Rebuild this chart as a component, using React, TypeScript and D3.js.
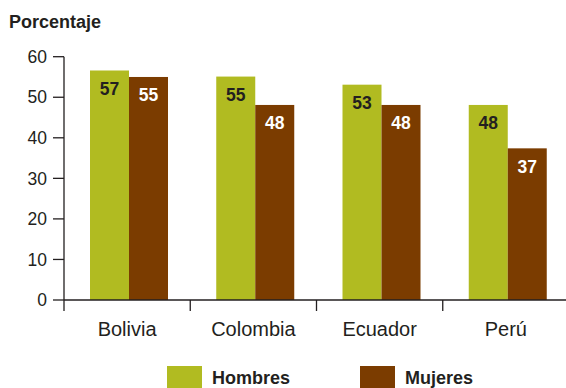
import React from "react";
import * as d3 from "d3";

const categories = ["Bolivia", "Colombia", "Ecuador", "Perú"];
const seriesNames = ["Hombres", "Mujeres"];
const hombres = [56.6, 55.1, 53.1, 48.1];
const mujeres = [55.0, 48.1, 48.1, 37.4];
const yTicks = [0, 10, 20, 30, 40, 50, 60];
const yTitle = "Porcentaje";

const colors = ["#b1bb21", "#7b3c00"];
const labelColors = ["#231f20", "#ffffff"];
const ink = "#231f20";
const font = "'Liberation Sans', Arial, Helvetica, sans-serif";

export default function App() {
  const W = 566, H = 388;
  const x0 = d3.scaleBand<string>().domain(categories).range([64, 569]);
  const x1 = d3.scaleBand<string>().domain(seriesNames).range([26, 104]);
  const y = d3.scaleLinear().domain([0, 60]).range([300, 56.7]);
  const values = [hombres, mujeres];

  return (
    <svg width={W} height={H} style={{ position: "absolute", left: 0, top: 0 }} fontFamily={font}>
      <rect width={W} height={H} fill="#fff" />
      <text x={9} y={28} fontSize={18} fontWeight="bold" fill={ink}>{yTitle}</text>

      {categories.map((c, ci) =>
        seriesNames.map((s, si) => {
          const v = values[si][ci];
          const bx = (x0(c) as number) + (x1(s) as number);
          const bw = x1.bandwidth();
          return (
            <g key={c + s}>
              <rect x={bx} y={y(v)} width={bw} height={y(0) - y(v)} fill={colors[si]} />
              <text x={bx + bw / 2} y={y(v) + 24.5} textAnchor="middle" fontSize={17.5} fontWeight="bold" fill={labelColors[si]}>
                {Math.round(v)}
              </text>
            </g>
          );
        })
      )}

      {/* y axis */}
      <line x1={64} x2={64} y1={y(60)} y2={y(0)} stroke={ink} strokeWidth={1.3} />
      {yTicks.map((t) => (
        <g key={t}>
          <line x1={53} x2={64} y1={y(t)} y2={y(t)} stroke={ink} strokeWidth={1.3} />
          <text x={47} y={y(t) + 6.2} textAnchor="end" fontSize={17.5} fill={ink}>{t}</text>
        </g>
      ))}

      {/* x axis */}
      <line x1={64} x2={W} y1={y(0)} y2={y(0)} stroke={ink} strokeWidth={1.3} />
      {categories.map((c) => (
        <g key={c}>
          <line x1={x0(c) as number} x2={x0(c) as number} y1={y(0)} y2={y(0) + 11} stroke={ink} strokeWidth={1.3} />
          <text x={(x0(c) as number) + x0.bandwidth() / 2} y={336} textAnchor="middle" fontSize={20} fill={ink}>{c}</text>
        </g>
      ))}

      {/* legend */}
      {seriesNames.map((s, i) => {
        const lx = [167, 360][i];
        return (
          <g key={s}>
            <rect x={lx} y={366} width={35} height={22} fill={colors[i]} />
            <text x={lx + 45} y={384} fontSize={18} fontWeight="bold" fill={ink}>{s}</text>
          </g>
        );
      })}
    </svg>
  );
}
